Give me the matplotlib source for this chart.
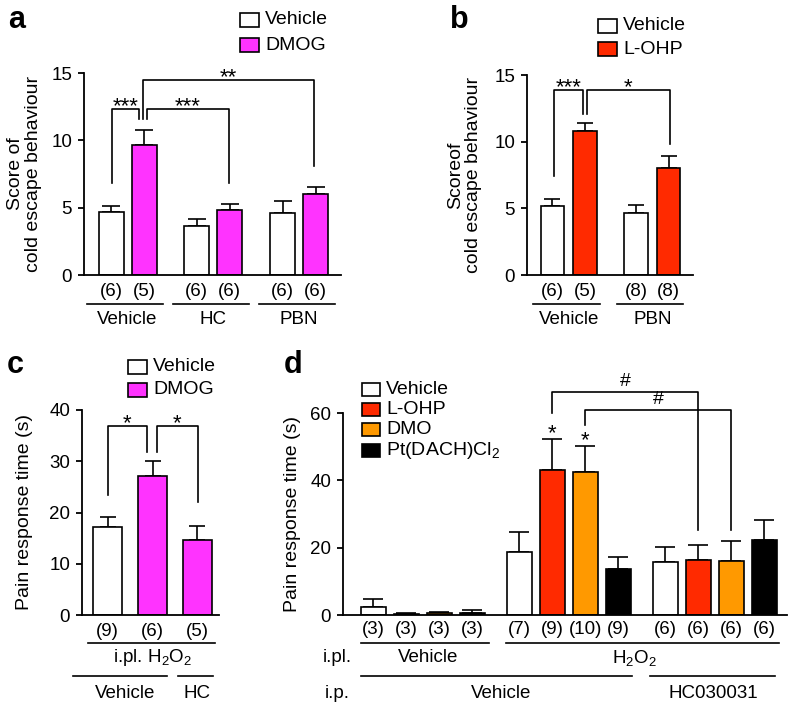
import numpy as np
import matplotlib
matplotlib.use("Agg")
import matplotlib.pyplot as plt
from matplotlib.patches import Rectangle
from matplotlib import transforms

plt.rcParams['font.family'] = ['Liberation Sans', 'DejaVu Sans']
plt.rcParams['mathtext.fontset'] = 'custom'
plt.rcParams['mathtext.rm'] = 'Liberation Sans'
plt.rcParams['mathtext.it'] = 'Liberation Sans:italic'

W, H = 788, 702
MAGENTA = "#ff33ff"
RED = "#ff2a00"
ORANGE = "#ff9900"

# ---- data ----
# panel a: cold escape score, Vehicle / DMOG, with Vehicle, HC, PBN
a_groups = ["Vehicle", "HC", "PBN"]
a_means = [4.67, 9.65, 3.65, 4.81, 4.62, 6.0]
a_sems = [0.47, 1.15, 0.5, 0.49, 0.88, 0.57]
a_n = ["(6)", "(5)", "(6)", "(6)", "(6)", "(6)"]

# panel b: cold escape score, Vehicle / L-OHP, with Vehicle, PBN
b_groups = ["Vehicle", "PBN"]
b_means = [5.17, 10.78, 4.63, 8.05]
b_sems = [0.5, 0.6, 0.6, 0.9]
b_n = ["(6)", "(5)", "(8)", "(8)"]

# panel c: pain response time after i.pl. H2O2
c_means = [17.1, 27.2, 14.7]
c_sems = [2.1, 2.9, 2.6]
c_n = ["(9)", "(6)", "(5)"]

# panel d: pain response time, 3 conditions x 4 treatments
d_treatments = ["Vehicle", "L-OHP", "DMO", "Pt(DACH)Cl$_2$"]
d_means = [2.5, 0.3, 0.6, 0.6, 18.8, 43.0, 42.4, 13.7, 15.6, 16.3, 16.1, 22.3]
d_sems = [2.4, 0.3, 0.4, 0.8, 5.9, 9.4, 7.9, 3.5, 4.6, 4.6, 6.0, 5.9]
d_n = ["(3)", "(3)", "(3)", "(3)", "(7)", "(9)", "(10)", "(9)",
       "(6)", "(6)", "(6)", "(6)"]

fig = plt.figure(figsize=(W / 100, H / 100), dpi=100)


def px_axes(l, t, r, b):
    return fig.add_axes([l / W, 1 - b / H, (r - l) / W, (b - t) / H])


def style(ax, ylim, yticks):
    ax.set_ylim(*ylim)
    ax.set_yticks(yticks)
    ax.set_xticks([])
    for s in ["top", "right"]:
        ax.spines[s].set_visible(False)
    for s in ["left", "bottom"]:
        ax.spines[s].set_linewidth(1.3)
    ax.tick_params(axis="y", length=4.5, width=1.3, pad=4, labelsize=13.5)


def draw_bars(ax, pos, means, sems, colors, width, capsize):
    ax.errorbar(pos, means, yerr=[np.zeros(len(means)), sems], fmt="none",
                ecolor="k", elinewidth=1.2, capsize=capsize, capthick=1.2,
                zorder=1)
    ax.bar(pos, means, width, color=colors, edgecolor="k", linewidth=1.2,
           zorder=2)


def bracket(ax, x1, x2, ytop, y1, y2, label, off=-2.5, fs=16):
    ax.plot([x1, x1, x2, x2], [y1, ytop, ytop, y2], color="k", lw=1.2,
            clip_on=False)
    ax.annotate(label, ((x1 + x2) / 2, ytop), xytext=(0, off),
                textcoords="offset points", ha="center", va="baseline",
                fontsize=fs, annotation_clip=False)


def below_text(ax, x, py, s, fs=13.5):
    tr = transforms.blended_transform_factory(ax.transData, fig.transFigure)
    ax.text(x, 1 - py / H, s, transform=tr, ha="center", va="center",
            fontsize=fs)


def below_line(ax, x1, x2, py):
    tr = transforms.blended_transform_factory(ax.transData, fig.transFigure)
    ax.plot([x1, x2], [1 - py / H] * 2, color="k", lw=1.2, transform=tr,
            clip_on=False)


def legend_item(x, yc, color, label, w=19, h=14):
    fig.patches.append(Rectangle((x / W, 1 - (yc + h / 2) / H), w / W, h / H,
                                 transform=fig.transFigure, facecolor=color,
                                 edgecolor="k", lw=1.2))
    fig.text((x + w + 6) / W, 1 - yc / H, label, va="center", fontsize=14)


def panel_letter(x, y, s):
    fig.text(x / W, 1 - y / H, s, fontsize=22, fontweight="bold",
             va="baseline")


# ---- panel a ----
ax = px_axes(84, 73, 341, 275)
style(ax, (0, 15), [0, 5, 10, 15])
a_pos = [0, 1, 2.6, 3.6, 5.2, 6.2]
ax.set_xlim(-0.82, 6.97)
draw_bars(ax, a_pos, a_means, a_sems, ["white", MAGENTA] * 3, 0.76, 6.5)
ax.set_ylabel("Score of\ncold escape behaviour", fontsize=14, linespacing=1.1)
ax.yaxis.set_label_coords((42 - 84) / 257, 0.5)
bracket(ax, 0.03, 0.85, 12.35, 6.8, 11.6, "***")
bracket(ax, 1.09, 3.58, 12.35, 11.6, 6.85, "***")
bracket(ax, 0.98, 6.15, 14.5, 11.6, 8.07, "**")
for p, n in zip(a_pos, a_n):
    below_text(ax, p, 291, n)
for i, g in enumerate(a_groups):
    below_line(ax, a_pos[2 * i] - 0.73, a_pos[2 * i + 1] + 0.58, 304)
    below_text(ax, (a_pos[2 * i] + a_pos[2 * i + 1]) / 2, 320, g)
legend_item(240, 20, "white", "Vehicle")
legend_item(240, 45, MAGENTA, "DMOG")
panel_letter(8, 28, "a")

# ---- panel b ----
ax = px_axes(527, 75, 693, 275)
style(ax, (0, 15), [0, 5, 10, 15])
b_pos = [0, 1, 2.57, 3.57]
ax.set_xlim(-0.78, 4.32)
draw_bars(ax, b_pos, b_means, b_sems, ["white", RED] * 2, 0.72, 5.5)
ax.set_ylabel("Scoreof\ncold escape behaviour", fontsize=14, linespacing=1.1)
ax.yaxis.set_label_coords((482 - 527) / 166, 0.5)
bracket(ax, 0.05, 0.93, 13.9, 7.4, 12.1, "***")
bracket(ax, 1.05, 3.6, 13.9, 12.1, 9.8, "*")
for p, n in zip(b_pos, b_n):
    below_text(ax, p, 291, n)
for i, g in enumerate(b_groups):
    below_line(ax, b_pos[2 * i] - 0.6, b_pos[2 * i + 1] + 0.45, 304)
    below_text(ax, (b_pos[2 * i] + b_pos[2 * i + 1]) / 2, 320, g)
legend_item(598, 26, "white", "Vehicle")
legend_item(598, 49, RED, "L-OHP")
panel_letter(450, 28, "b")

# ---- panel c ----
ax = px_axes(82, 410, 219, 615)
style(ax, (0, 40), [0, 10, 20, 30, 40])
c_pos = [0, 1, 2]
ax.set_xlim(-0.57, 2.48)
draw_bars(ax, c_pos, c_means, c_sems, ["white", MAGENTA, MAGENTA], 0.64, 5.5)
ax.set_ylabel("Pain response time (s)", fontsize=14)
ax.yaxis.set_label_coords((33 - 82) / 137, 0.5)
bracket(ax, 0.0, 0.88, 36.9, 23.5, 31.9, "*")
bracket(ax, 1.09, 2.01, 36.9, 31.9, 22.1, "*")
for p, n in zip(c_pos, c_n):
    below_text(ax, p, 632, n)
below_line(ax, -0.43, 2.39, 643)
below_text(ax, 1.0, 658, "i.pl. H$_2$O$_2$")
below_line(ax, -0.77, 1.32, 676)
below_line(ax, 1.57, 2.34, 676)
below_text(ax, 0.4, 693, "Vehicle")
below_text(ax, 2.0, 693, "HC")
legend_item(128, 366.5, "white", "Vehicle")
legend_item(128, 390, MAGENTA, "DMOG")
panel_letter(7, 373, "c")

# ---- panel d ----
ax = px_axes(343, 413, 787, 615)
style(ax, (0, 60), [0, 20, 40, 60])
d_pos = [0, 1, 2, 3, 4.42, 5.42, 6.42, 7.42, 8.84, 9.84, 10.84, 11.84]
ax.set_xlim(-0.92, 12.53)
d_colors = ["white", RED, ORANGE, "black"]
draw_bars(ax, d_pos, d_means, d_sems, d_colors * 3, 0.76, 7)
ax.set_ylabel("Pain response time (s)", fontsize=14)
ax.yaxis.set_label_coords((301 - 343) / 444, 0.5)
for i in [5, 6]:
    ax.annotate("*", (d_pos[i], d_means[i] + d_sems[i]), xytext=(0, -0.5),
                textcoords="offset points", ha="center", va="baseline",
                fontsize=16)
bracket(ax, d_pos[5], d_pos[9], 66.3, 60.0, 25.2, "#", off=4, fs=14)
bracket(ax, d_pos[6], d_pos[10], 60.9, 56.4, 25.2, "#", off=4, fs=14)
for p, n in zip(d_pos, d_n):
    below_text(ax, p, 630, n)
below_line(ax, -0.38, 3.5, 643)
below_line(ax, 4.02, 12.29, 643)
below_line(ax, -0.38, 7.82, 676)
below_line(ax, 8.38, 12.17, 676)
below_text(ax, 1.66, 658, "Vehicle")
below_text(ax, 7.9, 658, "H$_2$O$_2$")
below_text(ax, 3.88, 693, "Vehicle")
below_text(ax, 10.29, 693, "HC030031")
fig.text(337 / W, 1 - 658 / H, "i.pl.", ha="center", va="center", fontsize=13.5)
fig.text(337 / W, 1 - 693 / H, "i.p.", ha="center", va="center", fontsize=13.5)
for k, (t, c) in enumerate(zip(d_treatments, d_colors)):
    legend_item(362, 389 + k * 20.4, c, t, w=18, h=13)
panel_letter(284, 373, "d")

fig.savefig("out.png", dpi=100)
